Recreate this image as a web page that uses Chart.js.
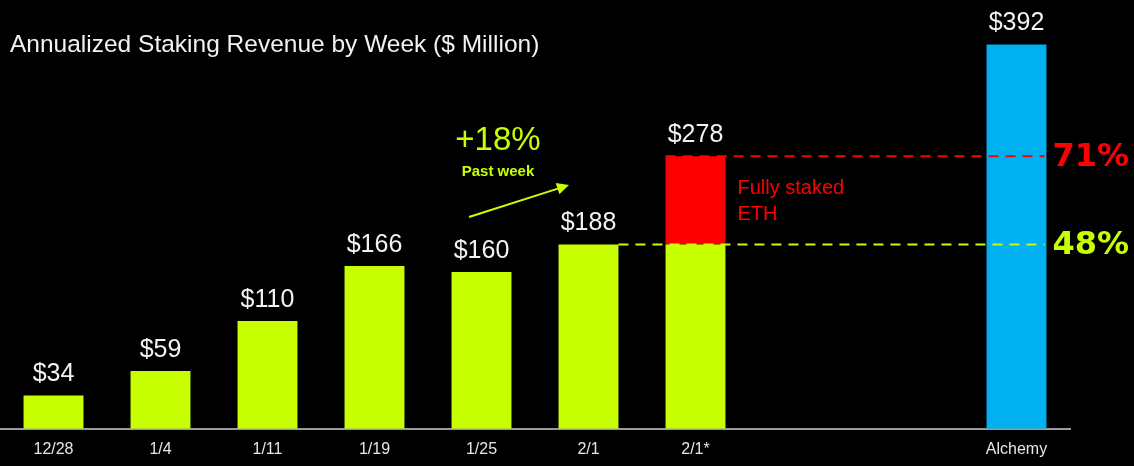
<!DOCTYPE html>
<html>
<head>
<meta charset="utf-8">
<script src="https://cdn.jsdelivr.net/npm/chart.js@4"></script>
<style>
  html, body { margin: 0; padding: 0; background: #000; }
  canvas { display: block; }
</style>
</head>
<body>
<canvas id="stakingChart" width="1134" height="466"></canvas>
<script>
/* ============================================================
   DATA
   ============================================================ */
const weekLabels = ["12/28", "1/4", "1/11", "1/19", "1/25", "2/1", "2/1*", "", "", "Alchemy"];
const stakingRevenue = [34, 59, 110, 166, 160, 188, 188, null, null, 392];
const fullyStakedExtra = [null, null, null, null, null, null, 90, null, null, null];
const barColors = ["#c8ff00", "#c8ff00", "#c8ff00", "#c8ff00", "#c8ff00", "#c8ff00", "#c8ff00", "#c8ff00", "#c8ff00", "#00b0f0"];
const shareLevels = [278, 188];
const shareLabels = ["71%", "48%"];

const LIME = "#c8ff00";
const RED = "#ff0000";
const FONT = "'Liberation Sans', Arial, sans-serif";

/* ============================================================
   OVERLAY (labels, dashed lines, notes)
   ============================================================ */
const overlayPlugin = {
    id: "overlay",
    beforeDraw(chart) {
        const ctx = chart.ctx;
        ctx.save();
        ctx.fillStyle = "#000";
        ctx.fillRect(0, 0, chart.width, chart.height);
        ctx.restore();
    },
    afterDatasetsDraw(chart) {
        const ctx = chart.ctx;
        const x = chart.scales.x;
        const y = chart.scales.y;
        const baseMeta = chart.getDatasetMeta(0);

        ctx.save();

        // title
        ctx.fillStyle = "#f2f2f2";
        ctx.font = "24.5px " + FONT;
        ctx.textAlign = "left";
        ctx.textBaseline = "alphabetic";
        ctx.fillText("Annualized Staking Revenue by Week ($ Million)", 10, 52);

        // value labels above bars
        ctx.font = "25px " + FONT;
        ctx.textAlign = "center";
        stakingRevenue.forEach((v, i) => {
            if (v === null) return;
            const total = v + (fullyStakedExtra[i] || 0);
            const bar = baseMeta.data[i];
            ctx.fillText("$" + total, bar.x, y.getPixelForValue(total) - 14);
        });

        // dashed reference lines
        const starBar = baseMeta.data[6];
        const prevBar = baseMeta.data[5];
        const alchemyBar = baseMeta.data[9];
        const lineEnd = alchemyBar.x + alchemyBar.width / 2 - 2;
        const lineStarts = [starBar.x - starBar.width / 2, prevBar.x + prevBar.width / 2];
        const lineColors = [RED, LIME];

        ctx.lineWidth = 2;
        ctx.setLineDash([10, 7]);
        shareLevels.forEach((lvl, i) => {
            const py = y.getPixelForValue(lvl);
            ctx.strokeStyle = lineColors[i];
            ctx.beginPath();
            ctx.moveTo(lineStarts[i], py);
            ctx.lineTo(lineEnd, py);
            ctx.stroke();

            ctx.fillStyle = lineColors[i];
            ctx.font = "bold 32px 'DejaVu Sans', sans-serif";
            ctx.textAlign = "left";
            ctx.textBaseline = "middle";
            ctx.fillText(shareLabels[i], lineEnd + 8, py + 1);
        });
        ctx.setLineDash([]);

        // "Fully staked ETH" note
        ctx.fillStyle = RED;
        ctx.font = "20px " + FONT;
        ctx.textAlign = "left";
        ctx.textBaseline = "middle";
        const noteX = starBar.x + starBar.width / 2 + 12;
        ctx.fillText("Fully staked", noteX, 188);
        ctx.fillText("ETH", noteX, 214);

        // +18% note with arrow
        const midX = (x.getPixelForValue(4) + x.getPixelForValue(5)) / 2;
        ctx.fillStyle = LIME;
        ctx.textAlign = "center";
        ctx.font = "33px " + FONT;
        ctx.fillText("+18%", midX - 37, 141);
        ctx.font = "bold 15px " + FONT;
        ctx.fillText("Past week", midX - 37, 172);

        const ax0 = midX - 66, ay0 = 217;
        const ax1 = midX + 34, ay1 = 185;
        ctx.strokeStyle = LIME;
        ctx.lineWidth = 2;
        ctx.beginPath();
        ctx.moveTo(ax0, ay0);
        ctx.lineTo(ax1 - 8, ay1 + 2.6);
        ctx.stroke();
        const ang = Math.atan2(ay1 - ay0, ax1 - ax0);
        ctx.beginPath();
        ctx.moveTo(ax1, ay1);
        ctx.lineTo(ax1 - 12 * Math.cos(ang) + 6 * Math.sin(ang), ay1 - 12 * Math.sin(ang) - 6 * Math.cos(ang));
        ctx.lineTo(ax1 - 12 * Math.cos(ang) - 6 * Math.sin(ang), ay1 - 12 * Math.sin(ang) + 6 * Math.cos(ang));
        ctx.closePath();
        ctx.fill();

        ctx.restore();
    }
};

/* ============================================================
   CHART
   ============================================================ */
new Chart(document.getElementById("stakingChart"), {
    type: "bar",
    data: {
        labels: weekLabels,
        datasets: [
            {
                label: "Annualized revenue",
                data: stakingRevenue,
                backgroundColor: barColors,
                barPercentage: 0.56,
                categoryPercentage: 1
            },
            {
                label: "Fully staked ETH",
                data: fullyStakedExtra,
                backgroundColor: RED,
                barPercentage: 0.56,
                categoryPercentage: 1
            }
        ]
    },
    options: {
        responsive: false,
        animation: false,
        layout: { padding: { top: 17, right: 64, left: 0, bottom: -4 } },
        plugins: {
            legend: { display: false },
            tooltip: { enabled: false }
        },
        scales: {
            x: {
                stacked: true,
                grid: { display: false, drawTicks: false, tickLength: 0 },
                border: { display: true, color: "#9a9a9a", width: 2 },
                ticks: {
                    color: "#e6e6e6",
                    font: { family: FONT, size: 16 },
                    padding: 11,
                    maxRotation: 0,
                    autoSkip: false
                }
            },
            y: {
                stacked: true,
                display: false,
                min: 0,
                max: 420
            }
        }
    },
    plugins: [overlayPlugin]
});
</script>
</body>
</html>
